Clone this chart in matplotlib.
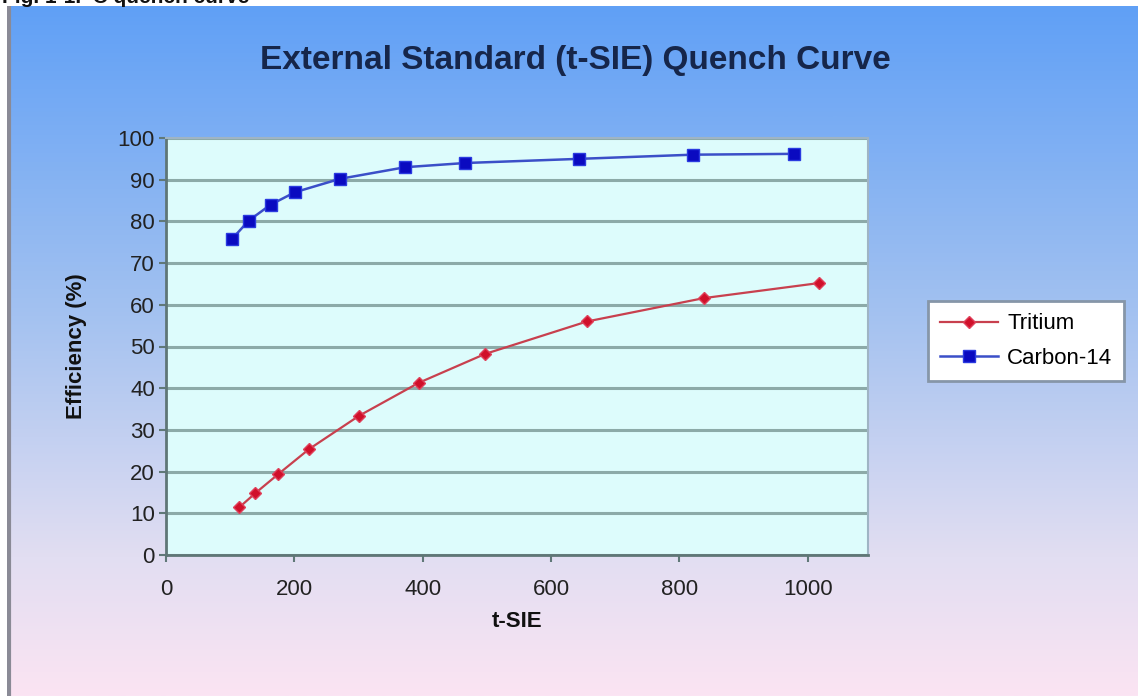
"""
External standard (t-SIE) quench curve, Excel style chart
"""

import matplotlib
matplotlib.use('Agg')
import matplotlib.pyplot as plt
import numpy as np
from matplotlib.colors import LinearSegmentedColormap

plt.rcParams['font.family'] = ['Liberation Sans', 'DejaVu Sans']

# values
tritium_x = [114, 139, 175, 223, 301, 394, 497, 656, 838, 1017]
tritium_y = [11.4, 14.8, 19.4, 25.4, 33.4, 41.3, 48.2, 56.0, 61.6, 65.2]

carbon_x = [103, 129, 163, 201, 271, 373, 466, 644, 821, 978]
carbon_y = [75.8, 80.2, 84.0, 87.0, 90.2, 93.0, 94.0, 95.0, 96.0, 96.2]

x_ticks = [0, 200, 400, 600, 800, 1000]
y_ticks = [0, 10, 20, 30, 40, 50, 60, 70, 80, 90, 100]

W, H = 1138, 696
fig = plt.figure(figsize=(W / 100, H / 100), dpi=100)
fig.patch.set_facecolor('white')

# gradient chart background (blue at top, pink at bottom)
bg = fig.add_axes([7 / W, 0, 1 - 7 / W, 1 - 6 / H])
cmap = LinearSegmentedColormap.from_list('bg', [(0.0, '#60a0f6'), (0.45, '#a4c2f0'),
                                               (0.8, '#e2def2'), (1.0, '#fbe4f3')])
grad = np.linspace(0, 1, 256).reshape(-1, 1)
bg.imshow(grad, aspect='auto', cmap=cmap, extent=[0, 1, 0, 1], origin='upper')
bg.set_xlim(0, 1)
bg.set_ylim(0, 1)
bg.axis('off')
bg.axvline(0.002, color='#8a8a96', linewidth=3)

# caption cut off at the top edge, as in the source picture
fig.text(0.002, 1.004, 'Fig. 1-1.  C quench curve', fontsize=15, fontweight='bold',
         color='#111111', ha='left', va='center')

ax = fig.add_axes([166 / W, 1 - 555 / H, (868 - 166) / W, (555 - 138) / H])
ax.set_facecolor('#ddfcfc')

ax.plot(tritium_x, tritium_y, color='#c8404e', linewidth=1.6, marker='D', markersize=6.5,
        markerfacecolor='#d0102a', markeredgecolor='#e0405a', label='Tritium', zorder=4)
ax.plot(carbon_x, carbon_y, color='#3b4fc8', linewidth=1.8, marker='s', markersize=8,
        markerfacecolor='#0a0ac0', markeredgecolor='#2a3ae0', label='Carbon-14', zorder=4)

ax.set_xlim(0, 1094)
ax.set_ylim(0, 100)
ax.set_xticks(x_ticks)
ax.set_yticks(y_ticks)
ax.set_xticklabels([str(v) for v in x_ticks])
ax.set_yticklabels([str(v) for v in y_ticks])
ax.tick_params(axis='both', labelsize=16, colors='#222222', length=5, width=1.5,
               direction='out')
ax.tick_params(axis='x', pad=12)
ax.tick_params(axis='y', pad=3)
ax.tick_params(axis='both', color='#607878')
ax.yaxis.grid(True, color='#8caaa8', linewidth=2.2)
ax.set_axisbelow(True)

for side in ['left', 'bottom']:
    ax.spines[side].set_color('#5f7676')
    ax.spines[side].set_linewidth(2)
for side in ['top', 'right']:
    ax.spines[side].set_color('#9fb4c4')
    ax.spines[side].set_linewidth(1.5)

ax.set_xlabel('t-SIE', fontsize=16, fontweight='bold', color='#111111', labelpad=8)
ax.set_ylabel('Efficiency (%)', fontsize=16, fontweight='bold', color='#111111', labelpad=22)

fig.text(575 / W, 1 - 60 / H, 'External Standard (t-SIE) Quench Curve', fontsize=24,
         fontweight='bold', color='#16264a', ha='center', va='center')

leg = ax.legend(loc='center left', bbox_to_anchor=(1.07, 0.513), fontsize=16,
                frameon=True, fancybox=False, borderpad=0.55, handlelength=2.6,
                labelspacing=0.6, handletextpad=0.4)
leg.get_frame().set_facecolor('white')
leg.get_frame().set_edgecolor('#8696a8')
leg.get_frame().set_linewidth(2)
leg.get_frame().set_alpha(1)

plt.savefig('out.png', dpi=100)
